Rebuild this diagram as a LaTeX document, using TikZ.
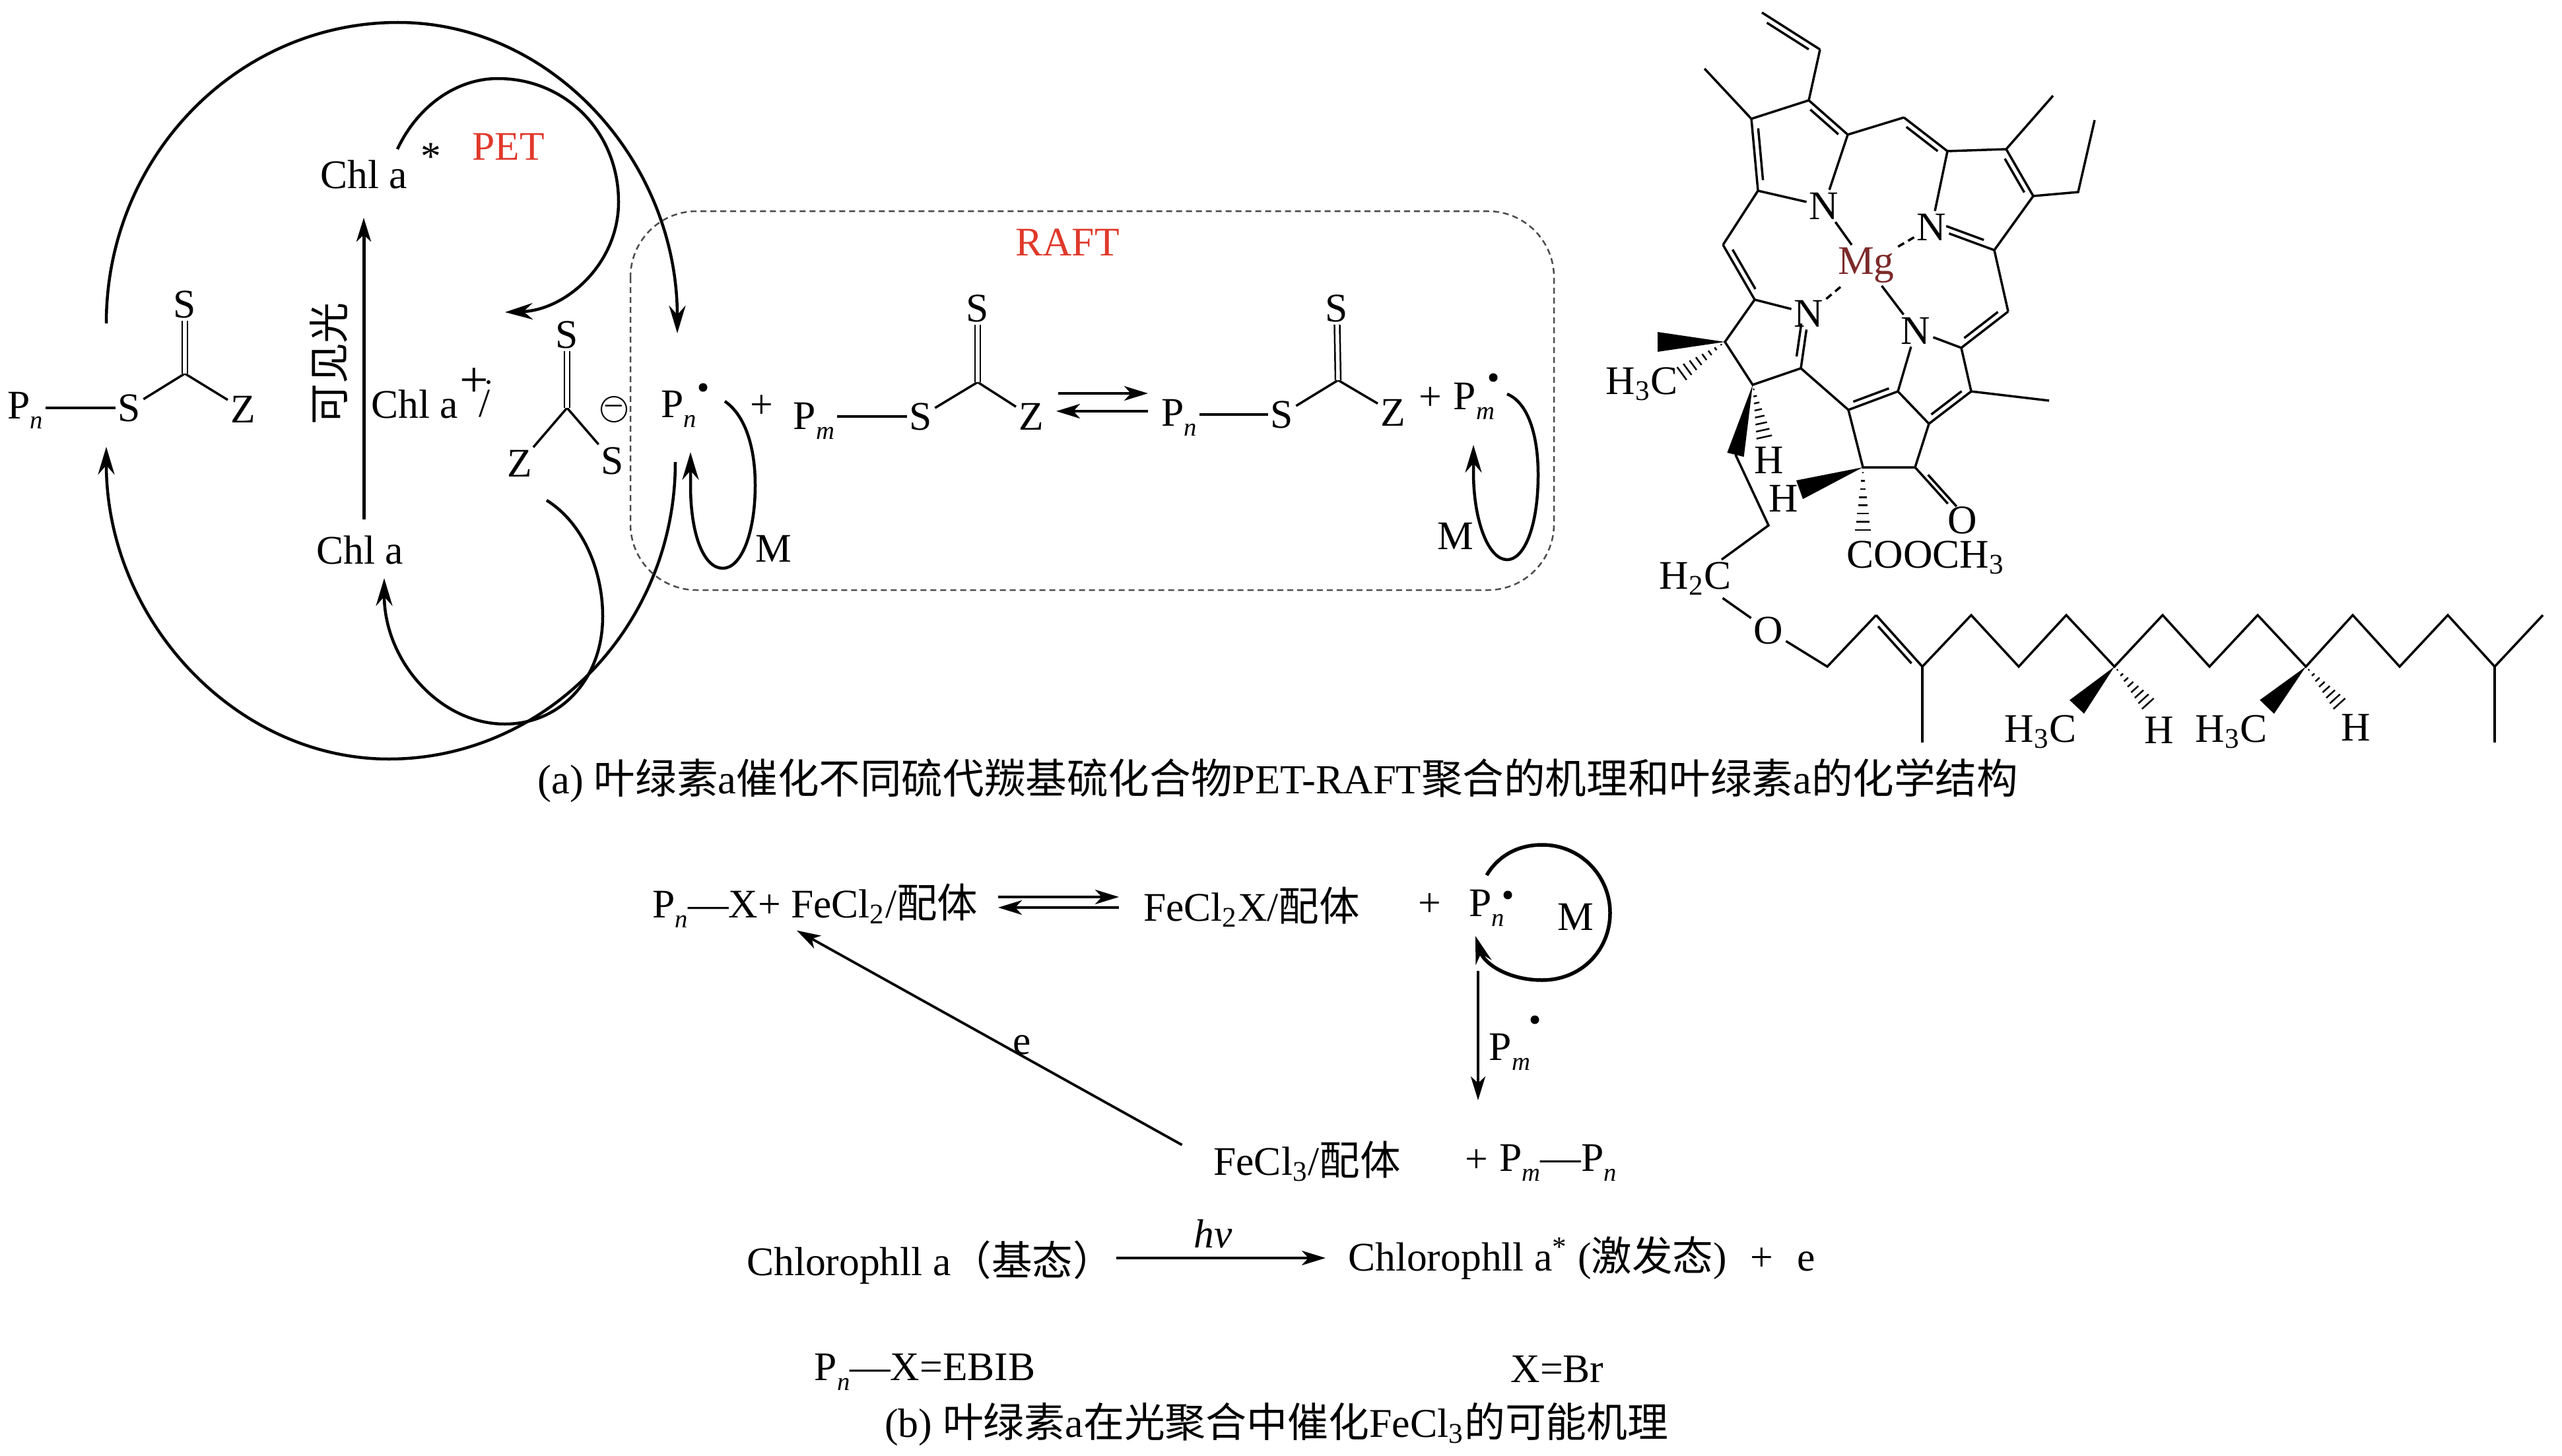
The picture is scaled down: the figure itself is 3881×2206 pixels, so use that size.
\documentclass[tikz,border=0pt]{standalone}
\usepackage{fontspec}
\setmainfont{Liberation Serif}
\newfontfamily\cjk{Noto Sans CJK SC}
\usetikzlibrary{arrows.meta,calc}
\definecolor{labelred}{HTML}{E0392B}
\definecolor{metalred}{HTML}{7D2A2A}
\newcommand{\zh}[1]{{\cjk #1}}
\newcommand{\lowsub}[1]{\raisebox{-.55ex}{\fontsize{11}{11}\selectfont #1}}
\newcommand{\Pn}{P\lowsub{\textit{n}}}
\newcommand{\Pm}{P\lowsub{\textit{m}}}
% double bond: outer line plus a shorter inner line on one side
\newcommand{\dbond}[4][.14]{
  \draw[bondline] (#2) -- (#3);
  \draw[bondline] ($(#2)!#1!(#3)!#4cm!90:(#3)$) -- ($(#3)!#1!(#2)!#4cm!-90:(#2)$);}
% solid and hashed stereo bonds
\newcommand{\wedgebond}[3]{\fill ($(#2)!#3cm!90:(#1)$) -- ($(#2)!#3cm!-90:(#1)$) -- (#1) -- cycle;}
\newcommand{\hashbond}[3]{
  \foreach \t in {.08,.2,...,1.01}
    \draw[line width=.025cm] ($(#1)!\t!(#2)!\t*#3cm!90:(#2)$) -- ($(#1)!\t!(#2)!\t*#3cm!-90:(#2)$);}
\tikzset{
  bondline/.style={line width=.035cm},
  curvearrow/.style={line width=.045cm, -{Stealth[length=.42cm,width=.25cm,inset=.14cm]}},
  strarrow/.style={line width=.038cm, -{Stealth[length=.36cm,width=.22cm,inset=.1cm]}},
  dblbond/.style={line width=.025cm, double, double distance=.055cm},
  chem/.style={font=\fontsize{17.5}{20}\selectfont, inner sep=1pt},
  capta/.style={font=\fontsize{17.8}{20}\selectfont, inner sep=1pt},
  captb/.style={font=\fontsize{17.6}{20}\selectfont, inner sep=1pt},
  pettext/.style={chem, text=labelred},
}
\begin{document}
\begin{tikzpicture}[x=0.01cm,y=-0.01cm]
  \useasboundingbox (0,0) rectangle (3881,2206);

  % Left: photoredox cycle labels
  \node[chem] (chlastar) at (551,264) {Chl a};
  \node[chem] (star) at (653,237) {*};
  \node[pettext] (pet) at (770,222) {PET};
  \node[chem] (chlaox) at (628,612) {Chl a};
  \node[chem, font=\fontsize{22}{24}\selectfont] (plus) at (718,580) {+};
  \node[chem] (slash) at (734,612) {/};
  \node[chem] (chla) at (545,833) {Chl a};
  \node[chem, font=\fontsize{17.6}{20}\cjk, rotate=90] (light) at (498,551) {可见光};
  \fill (740,579) circle (.03cm);
  \draw[strarrow, line width=.05cm, shorten <=.2cm, shorten >=.4cm] (chla.north -| chlastar) -- (chlastar.south);

  % Left thiocarbonylthio compound
  \node[chem] (pn1) at (38,622) {\Pn};
  \node[chem] (s1) at (196,618) {S};
  \node[chem] (z1) at (368,620) {Z};
  \node[chem] (s1up) at (280,461) {S};
  \coordinate (c1) at (280,566);
  \draw[bondline] (pn1.east |- s1) -- (s1);
  \draw[bondline] (s1) -- (c1) -- (z1);
  \draw[dblbond] (c1) -- (s1up);

  % Reduced compound
  \node[chem] (z2) at (787,702) {Z};
  \node[chem] (s2) at (928,698) {S};
  \node[chem] (s2up) at (859,507) {S};
  \node[draw, circle, line width=.02cm, minimum size=.38cm, inner sep=0pt, font=\fontsize{14}{14}\selectfont] (minus) at (930,620) {--};
  \coordinate (c2) at (859,618);
  \draw[bondline] (z2) -- (c2) -- (s2);
  \draw[dblbond] (c2) -- (s2up);

  % Cycle arcs
  \coordinate (bigtopa) at (161,490);
  \coordinate (bigtopb) at (1026,505);
  \coordinate (bigbota) at (1023,700);
  \coordinate (bigbotb) at (161,677);
  \coordinate (peta) at (602,226);
  \coordinate (petb) at (765,473);
  \coordinate (backa) at (828,758);
  \coordinate (backb) at (582,876);
  \draw[curvearrow] (bigtopa) .. controls (161,238) and (359,34) .. (603,34) .. controls (837,34) and (1026,245) .. (bigtopb);
  \draw[curvearrow] (bigbota) .. controls (1023,950) and (825,1150) .. (589,1150) .. controls (357,1150) and (161,940) .. (bigbotb);
  \draw[curvearrow] (peta) .. controls (633,160) and (692,119) .. (754,119) .. controls (857,119) and (937,200) .. (937,306) .. controls (937,400) and (857,470) .. (petb);
  \draw[curvearrow] (backa) .. controls (880,790) and (913,860) .. (913,934) .. controls (913,1030) and (848,1097) .. (765,1097) .. controls (665,1097) and (582,1000) .. (backb);

  % RAFT box
  \draw[line width=.025cm, gray!60!black, dash pattern=on .09cm off .06cm, rounded corners=1cm] (955,320) rectangle (2354,894);
  \node[pettext] (raft) at (1617,367) {RAFT};

  % RAFT equilibrium
  \node[chem] (pn2) at (1028,620) {\Pn};
  \node[chem] (plus2) at (1154,616) {+};
  \node[chem] (pm1) at (1233,638) {\Pm};
  \node[chem] (s3) at (1395,631) {S};
  \node[chem] (z3) at (1562,631) {Z};
  \node[chem] (s3up) at (1481,467) {S};
  \coordinate (c3) at (1481,579);
  \draw[bondline] (pm1.east |- s3) -- (s3);
  \draw[bondline] (s3) -- (c3) -- (z3);
  \draw[dblbond] (c3) -- (s3up);
  \node[chem] (pn3) at (1786,633) {\Pn};
  \node[chem] (s4) at (1942,628) {S};
  \node[chem] (z4) at (2110,625) {Z};
  \node[chem] (s4up) at (2025,467) {S};
  \coordinate (c4) at (2027,576);
  \draw[bondline] (pn3.east |- s4) -- (s4);
  \draw[bondline] (s4) -- (c4) -- (z4);
  \draw[dblbond] (c4) -- (s4up);
  \coordinate (eqtopa) at (1603,596);
  \coordinate (eqtopb) at (1739,596);
  \coordinate (eqlowa) at (1739,623);
  \coordinate (eqlowb) at (1600,623);
  \draw[strarrow] (eqtopa) -- (eqtopb);
  \draw[strarrow] (eqlowa) -- (eqlowb);
  \node[chem] (plus3) at (2167,604) {+};
  \node[chem] (pm2) at (2233,608) {\Pm};
  \node[chem] (m1) at (1172,831) {M};
  \node[chem] (m2) at (2205,812) {M};
  \foreach \x/\y in {1065/587,2262/572,2284/1356,2325/1545}
    \fill (\x,\y) circle (.065cm);
  \coordinate (loopa) at (1098,608);
  \coordinate (loopb) at (1046,685);
  \coordinate (loopc) at (2283,597);
  \coordinate (loopd) at (2232,674);
  \draw[curvearrow] (loopa) .. controls (1130,630) and (1144,680) .. (1144,735) .. controls (1144,810) and (1122,861) .. (1095,861) .. controls (1066,861) and (1046,810) .. (1046,735) -- (loopb);
  \draw[curvearrow] (loopc) .. controls (2315,610) and (2330,660) .. (2330,719) .. controls (2330,800) and (2308,848) .. (2283,848) .. controls (2255,848) and (2232,790) .. (2232,715) -- (loopd);

  % Chlorophyll a: atoms of the macrocycle
  \foreach \n/\x/\y in {a1/2669/19,a2/2757/75,a3/2740/152,a4/2653/180,a5/2582/104,a6/2663/289,
      a7/2799/204,a8/2884/178,a9/2950/229,a10/3039/226,a11/3080/297,a12/3021/379,a13/3042/472,
      a14/2971/527,a15/2986/593,a16/2922/642,a17/2875/593,a18/2800/621,a19/2728/558,a20/2655/583,
      a21/2658/454,a22/2613/518,a23/2610/371,a24/2822/708,a25/2901/708,
      e1/3110/145,e2/3148/291,e3/3173/182,m1c/3104/607,w1/2511/518,w2/2629/689,
      t1/2679/796,t3/2768/1010,t4/2842/932,t5/2912/1010,t6/2986/932,t7/3058/1010,t8/3130/932,
      t9/3203/1010,t10/3276/932,t11/3347/1010,t12/3420/932,t13/3493/1010,t14/3564/932,
      t15/3635/1010,t16/3708/932,t17/3779/1010,t18/3852/932,b1/2912/1125,b2/3779/1125,
      hh1/2542/570,hh2/2674/669,wh/2726/742,hh3/2822/811,w3/3146/1071,hh4/3258/1071,w4/3434/1071,hh5/3548/1071}
    \coordinate (\n) at (\x,\y);
  \node[chem] (n1) at (2763,312) {N};
  \node[chem] (n2) at (2926,344) {N};
  \node[chem] (n3) at (2902,501) {N};
  \node[chem] (n4) at (2740,475) {N};
  \node[chem, text=metalred] (mg) at (2827,402) {Mg};
  \node[chem] (h3c1) at (2487,582) {H\textsubscript{3}C};
  \node[chem] (h1) at (2680,697) {H};
  \node[chem] (h2) at (2702,755) {H};
  \node[chem] (o1) at (2973,788) {O};
  \node[chem] (cooch) at (2917,845) {COOCH\textsubscript{3}};
  \node[chem] (h2c) at (2568,877) {H\textsubscript{2}C};
  \node[chem] (o2) at (2679,955) {O};
  \node[chem] (h3c2) at (3091,1109) {H\textsubscript{3}C};
  \node[chem] (h3) at (3271,1106) {H};
  \node[chem] (h3c3) at (3380,1109) {H\textsubscript{3}C};
  \node[chem] (h4) at (3569,1102) {H};

  % Single bonds of the macrocycle
  \draw[bondline] (a2) -- (a3) -- (a4) -- (a5);
  \draw[bondline] (a6) -- (n1) -- (a7) -- (a8);
  \draw[bondline] (a9) -- (n2);
  \draw[bondline] (a9) -- (a10) -- (e1);
  \draw[bondline] (a11) -- (e2) -- (e3);
  \draw[bondline] (a11) -- (a12) -- (a13);
  \draw[bondline] (a14) -- (n3) -- (a17) -- (a16);
  \draw[bondline] (a14) -- (a15) -- (m1c);
  \draw[bondline] (a18) -- (a19) -- (a20) -- (a22) -- (a21) -- (n4);
  \draw[bondline] (a6) -- (a23);
  \draw[bondline] (a18) -- (a24) -- (a25) -- (a16);
  \draw[bondline] (n1) -- (mg);
  \draw[bondline] (n3) -- (mg);
  \draw[bondline, densely dashed] (n2) -- (mg);
  \draw[bondline, densely dashed] (n4) -- (mg);

  % Double bonds of the macrocycle
  \dbond{a1}{a2}{-.09}
  \dbond{a3}{a7}{-.09}
  \dbond{a4}{a6}{.09}
  \dbond{a8}{a9}{-.09}
  \dbond{a10}{a11}{-.09}
  \dbond[.2]{a12}{n2}{-.09}
  \dbond{a13}{a14}{-.09}
  \dbond{a15}{a16}{-.09}
  \dbond{a18}{a17}{.09}
  \dbond[.2]{a19}{n4}{.09}
  \dbond{a23}{a21}{.09}
  \dbond[.2]{a25}{o1}{.07}

  % Stereo bonds
  \wedgebond{a22}{w1}{.15}
  \hashbond{a22}{hh1}{.13}
  \wedgebond{a20}{w2}{.13}
  \hashbond{a20}{hh2}{.13}
  \wedgebond{a24}{wh}{.15}
  \hashbond{a24}{hh3}{.13}
  \wedgebond{t9}{w3}{.15}
  \hashbond{t9}{hh4}{.13}
  \wedgebond{t13}{w4}{.15}
  \hashbond{t13}{hh5}{.13}

  % Phytyl tail
  \draw[bondline] (w2) -- (t1) -- (h2c);
  \draw[bondline] (h2c) -- (o2) -- (t3) -- (t4);
  \dbond{t4}{t5}{-.09}
  \draw[bondline] (t5) -- (b1);
  \draw[bondline] (t5) -- (t6) -- (t7) -- (t8) -- (t9) -- (t10) -- (t11) -- (t12) -- (t13) -- (t14) -- (t15) -- (t16) -- (t17) -- (t18);
  \draw[bondline] (t17) -- (b2);

  % Caption (a)
  \node[capta] (capt1) at (1936,1183) {(a) \zh{叶绿素}a\zh{催化不同硫代羰基硫化合物}PET-RAFT\zh{聚合的机理和叶绿素}a\zh{的化学结构}};

  % Part (b): iron cycle
  \node[chem] (eqleft) at (1235,1372) {\Pn{}---X+ FeCl\textsubscript{2}/\zh{配体}};
  \node[chem] (eqright) at (1896,1374) {FeCl\textsubscript{2}X/\zh{配体}};
  \node[chem] (plus4) at (2166,1371) {+};
  \node[chem] (pnrad) at (2252,1376) {\Pn};
  \node[chem] (m3) at (2387,1389) {M};
  \node[chem] (pmrad) at (2287,1594) {\Pm};
  \node[chem] (e1n) at (1548,1583) {e};
  \node[chem] (fecl3) at (1980,1759) {FeCl\textsubscript{3}/\zh{配体}};
  \node[chem] (plus5) at (2237,1759) {+};
  \node[chem] (pmpn) at (2360,1762) {\Pm{}---\Pn};
  \coordinate (eqa) at (1512,1359);
  \coordinate (eqb) at (1695,1359);
  \coordinate (eqc) at (1695,1375);
  \coordinate (eqd) at (1512,1375);
  \draw[strarrow] (eqa) -- (eqb);
  \draw[strarrow] (eqc) -- (eqd);
  \coordinate (ringa) at (2252,1326);
  \coordinate (ringb) at (2235,1418);
  \draw[curvearrow, line width=.055cm] (ringa) .. controls (2270,1296) and (2300,1280) .. (2336,1280) .. controls (2395,1280) and (2439,1328) .. (2439,1383) .. controls (2439,1440) and (2395,1485) .. (2336,1485) .. controls (2285,1485) and (2248,1460) .. (ringb);
  \coordinate (pmtop) at (2239,1471);
  \coordinate (pmend) at (2239,1667);
  \draw[strarrow] (pmtop) -- (pmend);
  \draw[strarrow, shorten <=.5cm] (fecl3.west) -- ([xshift=-.28cm]eqleft.south);

  % Part (b): light step
  \node[chem] (ground) at (1409,1913) {Chlorophll a\zh{（基态）}};
  \node[chem] (excited) at (2396,1906) {Chlorophll a\textsuperscript{*} (\zh{激发态})\,\, +\,\, e};
  \node[chem, font=\fontsize{17.5}{20}\itshape] (hv) at (1838,1869) {hv};
  \draw[strarrow, shorten >=.3cm] (ground.east |- excited) -- (excited.west);

  \node[chem] (ebib) at (1401,2079) {\Pn{}---X=EBIB};
  \node[chem] (xbr) at (2359,2074) {X=Br};
  \node[captb] (capt2) at (1934,2158) {(b) \zh{叶绿素}a\zh{在光聚合中催化}FeCl\textsubscript{3}\zh{的可能机理}};
\end{tikzpicture}
\end{document}
